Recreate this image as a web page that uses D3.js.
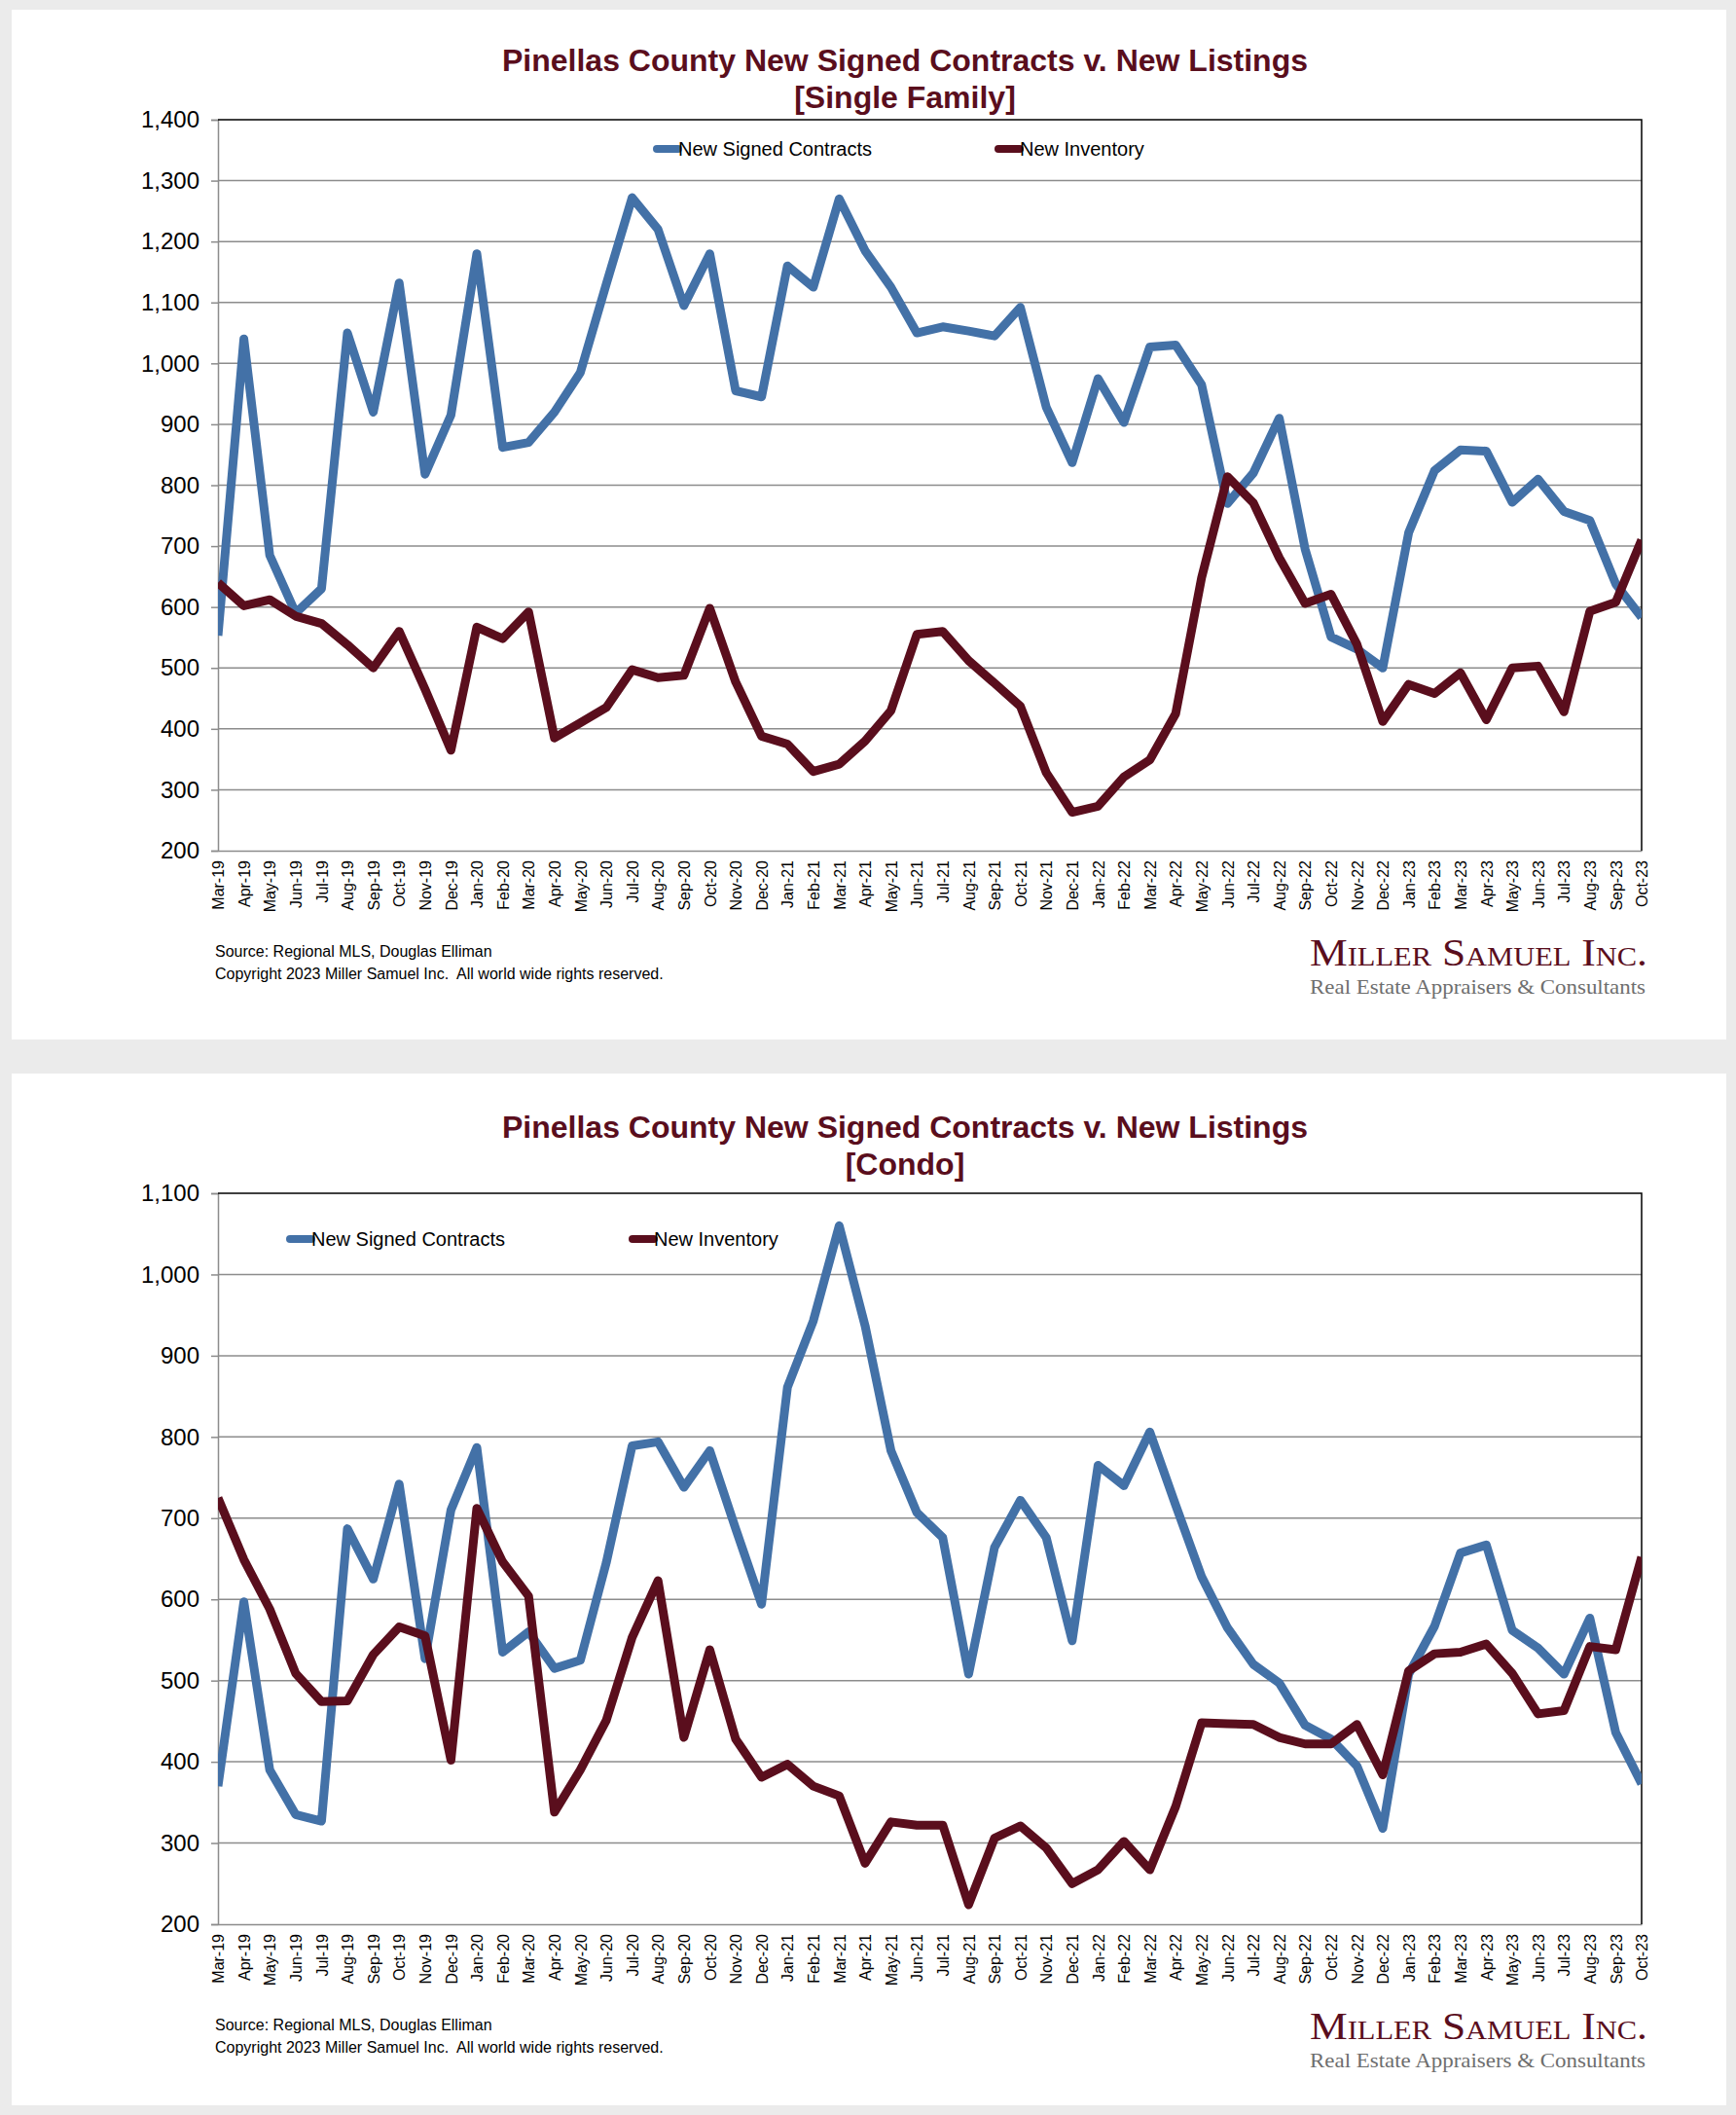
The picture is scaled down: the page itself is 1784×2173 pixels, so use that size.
<!DOCTYPE html>
<html>
<head>
<meta charset="utf-8">
<script src="https://cdn.jsdelivr.net/npm/d3@7"></script>
<style>
  body { margin: 0; background: #ebebeb; }
  svg { display: block; }
</style>
</head>
<body>
<div id="container"></div>
<script>

var months = ["Mar-19","Apr-19","May-19","Jun-19","Jul-19","Aug-19","Sep-19","Oct-19","Nov-19","Dec-19",
  "Jan-20","Feb-20","Mar-20","Apr-20","May-20","Jun-20","Jul-20","Aug-20","Sep-20","Oct-20","Nov-20","Dec-20",
  "Jan-21","Feb-21","Mar-21","Apr-21","May-21","Jun-21","Jul-21","Aug-21","Sep-21","Oct-21","Nov-21","Dec-21",
  "Jan-22","Feb-22","Mar-22","Apr-22","May-22","Jun-22","Jul-22","Aug-22","Sep-22","Oct-22","Nov-22","Dec-22",
  "Jan-23","Feb-23","Mar-23","Apr-23","May-23","Jun-23","Jul-23","Aug-23","Sep-23","Oct-23"];

// single family
var sfContracts = [553,1040,685,590,630,1050,920,1132,818,915,1180,862,870,920,985,1130,1272,1220,1095,1180,
  955,945,1160,1125,1270,1185,1125,1050,1060,1053,1045,1092,928,837,975,903,1027,1030,965,770,
  820,910,695,551,531,500,722,824,858,856,772,810,757,742,638,583];
var sfInventory = [640,602,612,585,573,538,500,560,465,365,567,548,592,385,410,435,497,484,488,598,
  477,388,375,330,342,380,430,555,560,512,475,437,328,263,273,321,349,425,648,814,
  771,681,606,621,539,412,473,458,492,415,500,503,428,593,608,710];
var sfTicks = [200,300,400,500,600,700,800,900,1000,1100,1200,1300,1400];

// condo
var condoContracts = [370,597,390,335,327,687,625,742,527,710,787,535,560,515,525,645,789,794,738,783,
  687,594,861,943,1060,937,783,707,676,508,664,722,676,549,765,740,806,716,628,565,
  520,497,445,428,395,318,508,567,657,667,562,540,508,577,436,373];
var condoInventory = [725,649,588,509,474,475,532,566,555,402,712,646,604,338,390,451,553,623,430,538,
  428,381,397,370,358,275,326,322,322,224,306,321,294,250,267,302,267,345,448,447,
  446,430,422,422,446,384,512,533,535,545,509,459,463,542,538,652];
var condoTicks = [200,300,400,500,600,700,800,900,1000,1100];

var seriesNames = ["New Signed Contracts", "New Inventory"];
var blue = "#4371a7", maroon = "#5a0e1d";

var svg = d3.select("#container").append("svg")
    .attr("width", 1784)
    .attr("height", 2173);

svg.append("rect").attr("width", 1784).attr("height", 2173).attr("fill", "#ebebeb");

function drawChart(cfg) {
  var g = svg.append("g").attr("transform", "translate(0," + cfg.dy + ")");

  g.append("rect")
      .attr("x", 12).attr("y", cfg.panelTop)
      .attr("width", 1762).attr("height", cfg.panelHeight)
      .attr("fill", "#fff");

  var left = 224, right = 1687, top = 123, bottom = 874;

  var x = d3.scalePoint().domain(months).range([left, right]);
  var y = d3.scaleLinear().domain([200, cfg.max]).range([bottom, top]);

  // title
  var title = g.append("text")
      .attr("x", 930).attr("y", cfg.titleY)
      .attr("text-anchor", "middle")
      .style("font-family", "'Liberation Sans', Arial, sans-serif")
      .style("font-weight", "bold")
      .style("font-size", "32px")
      .attr("fill", "#5a0e1d");
  title.append("tspan").attr("x", 930).text("Pinellas County New Signed Contracts v. New Listings");
  title.append("tspan").attr("x", 930).attr("dy", 38).text(cfg.sub);

  // gridlines
  g.append("g").selectAll("line").data(cfg.ticks.slice(1, -1)).join("line")
      .attr("x1", left).attr("x2", right)
      .attr("y1", function(d) { return y(d); }).attr("y2", function(d) { return y(d); })
      .attr("stroke", "#8c8c8c").attr("stroke-width", 1.5);

  // y axis
  var yAxis = g.append("g")
      .attr("transform", "translate(" + left + ",0)")
      .call(d3.axisLeft(y).tickValues(cfg.ticks).tickFormat(d3.format(",")).tickSize(7).tickPadding(12));
  yAxis.select(".domain").attr("stroke", "#8c8c8c").attr("stroke-width", 1.5);
  yAxis.selectAll(".tick line").attr("stroke", "#8c8c8c").attr("stroke-width", 1.5);
  yAxis.selectAll("text")
      .style("font-family", "'Liberation Sans', Arial, sans-serif")
      .style("font-size", "24px").attr("fill", "#000");

  // x axis
  var xAxis = g.append("g")
      .attr("transform", "translate(0," + bottom + ")")
      .call(d3.axisBottom(x).tickSize(0).tickPadding(0));
  xAxis.select(".domain").attr("stroke", "#8c8c8c").attr("stroke-width", 1.5);
  xAxis.selectAll("text")
      .attr("transform", "rotate(-90)")
      .attr("x", -10).attr("y", 0).attr("dy", "0.35em")
      .attr("text-anchor", "end")
      .style("font-family", "'Liberation Sans', Arial, sans-serif")
      .style("font-size", "16px").attr("fill", "#000");

  // top and right border
  g.append("path")
      .attr("d", "M" + left + "," + top + "H" + right + "V" + bottom)
      .attr("fill", "none").attr("stroke", "#000").attr("stroke-width", 1.5);

  var clipId = "clip" + cfg.dy;
  g.append("clipPath").attr("id", clipId).append("rect")
      .attr("x", left).attr("y", top - 20).attr("width", right - left).attr("height", bottom - top + 40);

  var line = d3.line()
      .x(function(d, i) { return x(months[i]); })
      .y(function(d) { return y(d); });

  var lines = g.append("g").attr("clip-path", "url(#" + clipId + ")");
  [cfg.contracts, cfg.inventory].forEach(function(s, k) {
    lines.append("path")
        .datum(s)
        .attr("d", line)
        .attr("fill", "none")
        .attr("stroke", k == 0 ? blue : maroon)
        .attr("stroke-width", 9)
        .attr("stroke-linejoin", "round");
  });

  // legend
  var legend = g.append("g");
  cfg.legendX.forEach(function(lx, k) {
    legend.append("line")
        .attr("x1", lx).attr("x2", lx + 22)
        .attr("y1", cfg.legendY).attr("y2", cfg.legendY)
        .attr("stroke", k == 0 ? blue : maroon)
        .attr("stroke-width", 8).attr("stroke-linecap", "round");
    legend.append("text")
        .attr("x", lx + 22).attr("y", cfg.legendY).attr("dy", "0.35em")
        .style("font-family", "'Liberation Sans', Arial, sans-serif")
        .style("font-size", "20px")
        .text(seriesNames[k]);
  });

  // footer
  var foot = g.append("g")
      .style("font-family", "'Liberation Sans', Arial, sans-serif")
      .style("font-size", "16px");
  foot.append("text").attr("x", 221).attr("y", 983).text("Source: Regional MLS, Douglas Elliman");
  foot.append("text").attr("x", 221).attr("y", 1006)
      .attr("xml:space", "preserve").style("white-space", "pre")
      .text("Copyright 2023 Miller Samuel Inc.  All world wide rights reserved.");

  // logo
  g.append("text")
      .attr("x", 1346).attr("y", 992)
      .attr("textLength", 347).attr("lengthAdjust", "spacingAndGlyphs")
      .style("font-family", "'Liberation Serif', 'Times New Roman', serif")
      .style("font-size", "40px")
      .style("font-variant", "small-caps")
      .attr("fill", "#5a0e1d")
      .text("Miller Samuel Inc.");
  g.append("text")
      .attr("x", 1346).attr("y", 1021)
      .attr("textLength", 345).attr("lengthAdjust", "spacingAndGlyphs")
      .style("font-family", "'Liberation Serif', 'Times New Roman', serif")
      .style("font-size", "22px")
      .attr("fill", "#6e6e6e")
      .text("Real Estate Appraisers & Consultants");
}

drawChart({
  dy: 0, panelTop: 10, panelHeight: 1058,
  titleY: 73, sub: "[Single Family]", max: 1400, ticks: sfTicks,
  contracts: sfContracts, inventory: sfInventory,
  legendX: [675, 1026], legendY: 153
});

drawChart({
  dy: 1103, panelTop: 0, panelHeight: 1060,
  titleY: 66, sub: "[Condo]", max: 1100, ticks: condoTicks,
  contracts: condoContracts, inventory: condoInventory,
  legendX: [298, 650], legendY: 170
});

</script>
</body>
</html>
